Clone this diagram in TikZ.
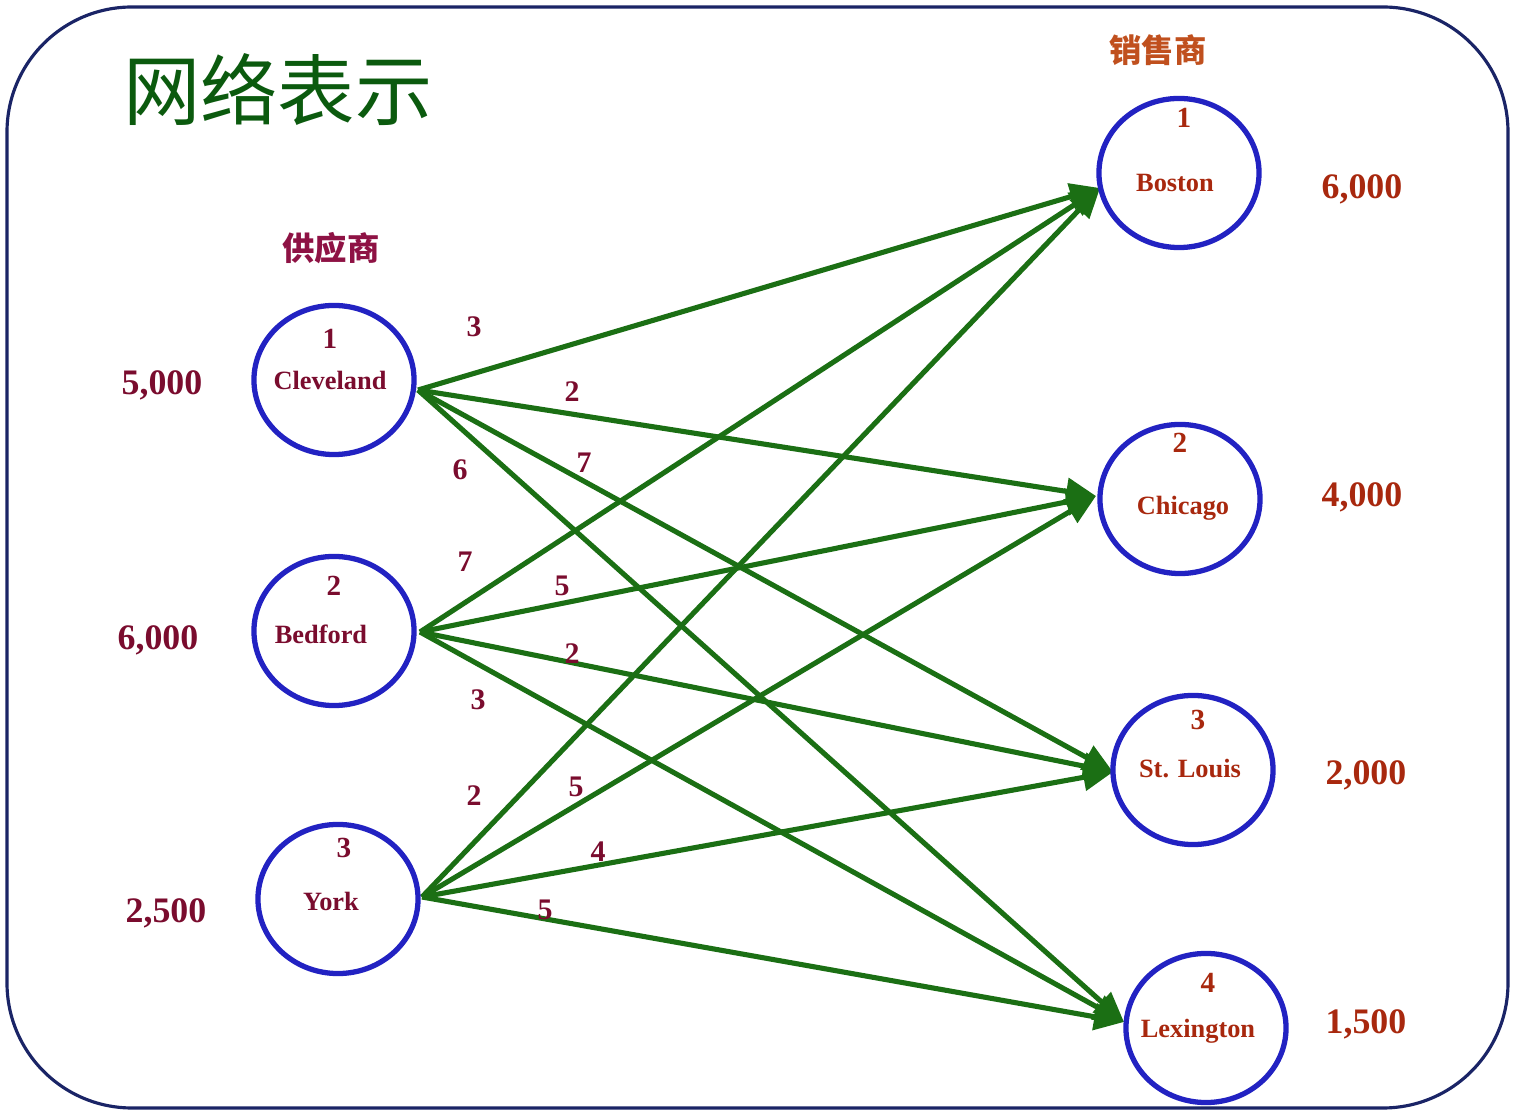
\documentclass[tikz,border=0pt]{standalone}
\usepackage{fontspec}
\setmainfont{Liberation Serif}
\newfontfamily\cjk{Noto Sans CJK SC}
\usetikzlibrary{shapes.geometric,arrows.meta}
\definecolor{edgegreen}{HTML}{1B6F14}
\definecolor{circblue}{HTML}{2222C2}
\definecolor{framenavy}{HTML}{1A2466}
\definecolor{titlegreen}{HTML}{0B5A0E}
\definecolor{leftred}{HTML}{7A0C2E}
\definecolor{supred}{HTML}{8E1244}
\definecolor{rightred}{HTML}{A8280E}
\definecolor{salered}{HTML}{C0501E}
\begin{document}
\begin{tikzpicture}[x=0.01cm,y=-0.01cm,
  city/.style={draw=circblue, line width=1.5pt, ellipse, minimum width=1.6cm, minimum height=1.49cm, inner sep=0pt},
  idx/.style={font=\bfseries\fontsize{8.3}{10}\selectfont, inner sep=0pt},
  cname/.style={font=\bfseries\fontsize{7.5}{9}\selectfont, inner sep=0pt},
  qty/.style={font=\bfseries\fontsize{10.2}{12}\selectfont, inner sep=0pt},
  cost/.style={font=\bfseries\fontsize{8.5}{10}\selectfont, text=leftred, inner sep=0pt},
  flow/.style={draw=edgegreen, line width=1.45pt, -{Triangle[length=8.5pt,width=7.5pt]}},
]
\useasboundingbox (0,0) rectangle (1517,1116);
\draw[framenavy, line width=0.9pt, rounded corners=1.25cm] (7,7) rectangle (1508,1108);

% title and headers
\node[font=\cjk\fontsize{22}{24}\selectfont, text=titlegreen, inner sep=0pt] (title) at (278,90) {网络表示};
\node[font=\cjk\bfseries\fontsize{9.2}{11}\selectfont, text=supred, inner sep=0pt] (suph) at (331,248) {供应商};
\node[font=\cjk\bfseries\fontsize{9.2}{11}\selectfont, text=salered, inner sep=0pt] (saleh) at (1158,50) {销售商};

% connector end points
\coordinate (oCle) at (418,390);
\coordinate (oBed) at (420,632);
\coordinate (oYor) at (422,897);
\coordinate (tBos) at (1100,188);
\coordinate (tChi) at (1096,496);
\coordinate (tStl) at (1113,772);
\coordinate (tLex) at (1124,1022);

% flows
\foreach \s in {oCle,oBed,oYor}{
  \foreach \t in {tBos,tChi,tStl,tLex}{
    \draw[flow] (\s) -- (\t);
  }
}

% supplier circles
\node[city] (cle) at (334,380) {};
\node[city] (bed) at (334,631) {};
\node[city] (yor) at (338,899) {};
% distributor circles
\node[city] (bos) at (1179,173) {};
\node[city] (chi) at (1180,499) {};
\node[city] (stl) at (1193,770) {};
\node[city] (lex) at (1206,1028) {};

% supplier texts
\node[idx, text=leftred] (cle1) at (330,339) {1};
\node[cname, text=leftred] (clen) at (330,380) {Cleveland};
\node[idx, text=leftred] (bed1) at (334,586) {2};
\node[cname, text=leftred] (bedn) at (321,634) {Bedford};
\node[idx, text=leftred] (yor1) at (344,848) {3};
\node[cname, text=leftred] (yorn) at (331,901) {York};

% distributor texts
\node[idx, text=rightred] (bos1) at (1184,118) {1};
\node[cname, text=rightred] (bosn) at (1175,183) {Boston};
\node[idx, text=rightred] (chi1) at (1180,443) {2};
\node[cname, text=rightred] (chin) at (1183,508) {Chicago};
\node[idx, text=rightred] (stl1) at (1198,720) {3};
\node[cname, text=rightred] (stln) at (1190,769) {St. Louis};
\node[idx, text=rightred] (lex1) at (1208,983) {4};
\node[cname, text=rightred] (lexn) at (1198,1031) {Lexington};

% supplies
\node[qty, text=leftred] (s1) at (162,385) {5,000};
\node[qty, text=leftred] (s2) at (158,640) {6,000};
\node[qty, text=leftred] (s3) at (166,913) {2,500};
% demands
\node[qty, text=rightred] (d1) at (1362,189) {6,000};
\node[qty, text=rightred] (d2) at (1362,497) {4,000};
\node[qty, text=rightred] (d3) at (1366,775) {2,000};
\node[qty, text=rightred] (d4) at (1366,1024) {1,500};

% costs
\node[cost] (c11) at (474,327) {3};
\node[cost] (c12) at (572,392) {2};
\node[cost] (c13) at (584,463) {7};
\node[cost] (c14) at (460,470) {6};
\node[cost] (c21) at (465,562) {7};
\node[cost] (c22) at (562,586) {5};
\node[cost] (c23) at (572,654) {2};
\node[cost] (c24) at (478,700) {3};
\node[cost] (c31) at (474,796) {2};
\node[cost] (c32) at (576,787) {5};
\node[cost] (c33) at (598,852) {4};
\node[cost] (c34) at (545,910) {5};
\end{tikzpicture}
\end{document}
